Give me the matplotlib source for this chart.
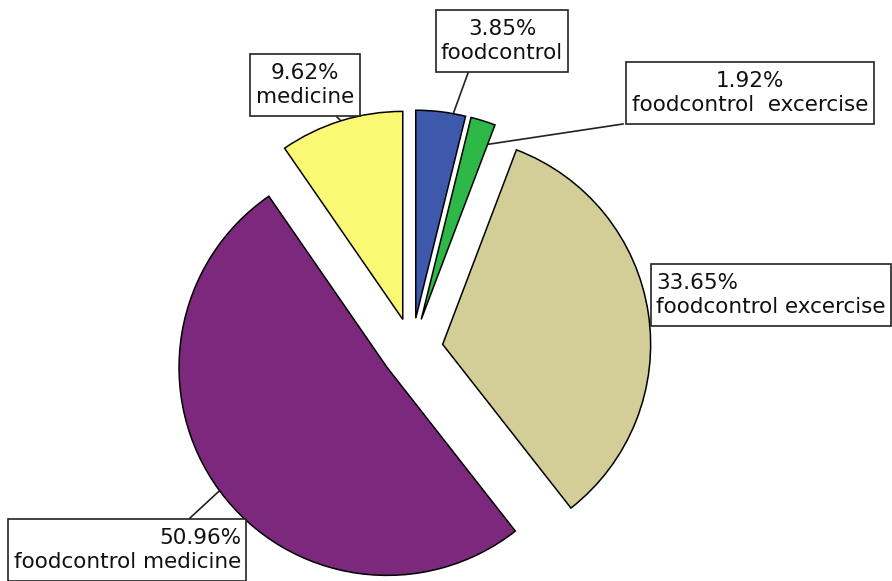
import numpy as np
import matplotlib.pyplot as plt

# treatment groups, clockwise from 12 o'clock
groups = ['foodcontrol', 'foodcontrol  excercise', 'foodcontrol excercise',
          'foodcontrol medicine', 'medicine']
percents = [3.85, 1.92, 33.65, 50.96, 9.62]
colors = ['#3E58AC', '#2EB848', '#D3CE97', '#7C287D', '#FBF873']

W, H = 892, 581
R = 208

fig = plt.figure(figsize=(W / 100, H / 100), dpi=100)
ax = fig.add_axes([0, 0, 1, 1])

# explode is in data units here (pixels), since radius != 1
wedges, _ = ax.pie(percents, colors=colors, startangle=90, counterclock=False,
                   explode=[31] * len(percents), radius=R, center=(412, H - 349),
                   wedgeprops=dict(edgecolor='black', linewidth=1.1), frame=True)
ax.set_xlim(0, W)
ax.set_ylim(0, H)
ax.axis('off')

# label boxes: centre (px from top-left), alignment, leader end on the box,
# and where the leader meets the wedge (fraction along arc, fraction of radius)
boxes = [
    ((502, 41), 'center', (468, 73), (0.75, 1.0)),
    ((750, 93), 'center', (623, 124), (1.0, 0.9)),
    ((656, 295), 'left', None, None),
    ((241, 550), 'right', (190, 518), (0.5, 1.0)),
    ((305, 85), 'center', (337, 117), (0.5, 1.0)),
]

for w, grp, p, (pos, ha, tip, at) in zip(wedges, groups, percents, boxes):
    x, y = pos[0], H - pos[1]
    ax.text(x, y, f'{p:.2f}%\n{grp}', ha=ha, va='center', multialignment=ha,
            fontsize=15.5, linespacing=1.25, color='#111111',
            bbox=dict(boxstyle='square,pad=0.25', fc='white', ec='#222222', lw=1.2,
                      mutation_aspect=1.6))
    if tip is None:
        continue
    ang = np.deg2rad(w.theta2 - at[0] * (w.theta2 - w.theta1))
    ex = w.center[0] + at[1] * w.r * np.cos(ang)
    ey = w.center[1] + at[1] * w.r * np.sin(ang)
    ax.plot([ex, tip[0]], [ey, H - tip[1]], color='#222222', lw=1.2, zorder=0.5)

fig.savefig('out.png', dpi=100)
